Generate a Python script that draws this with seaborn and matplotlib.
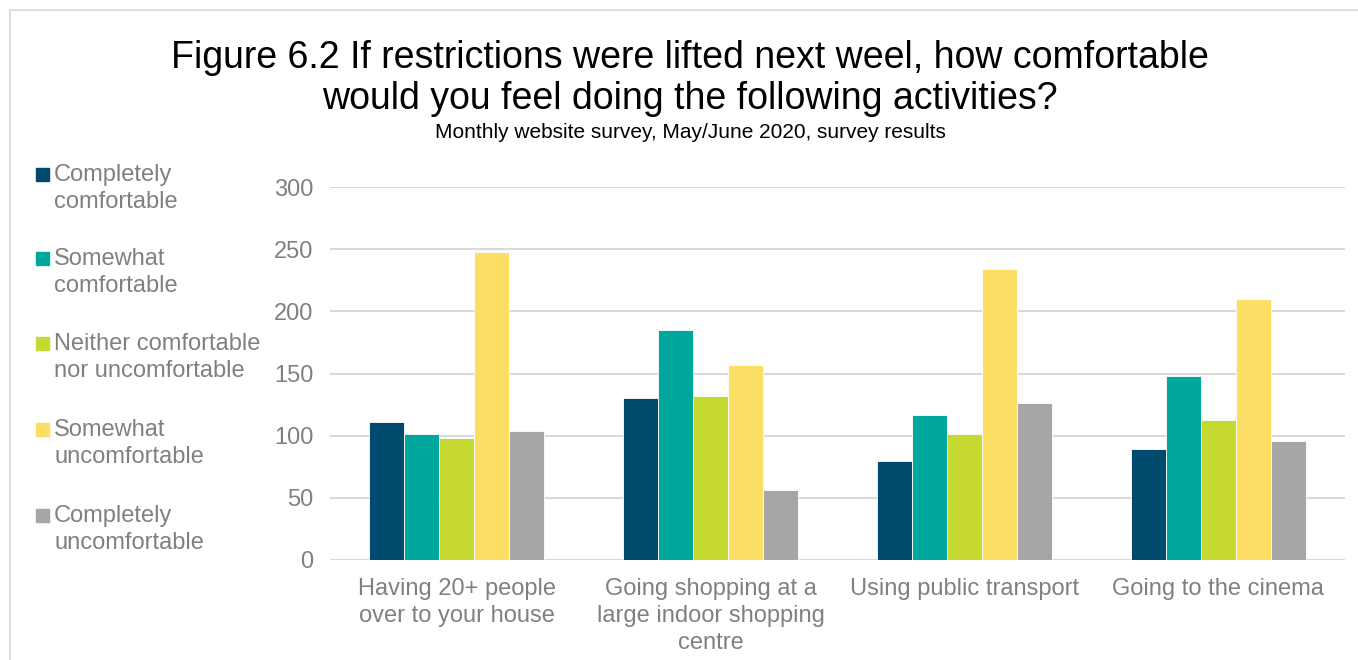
import pandas as pd
import matplotlib.pyplot as plt
import seaborn as sns
from matplotlib.lines import Line2D
from matplotlib.patches import Rectangle

activities = ['Having 20+ people\nover to your house',
              'Going shopping at a\nlarge indoor shopping\ncentre',
              'Using public transport',
              'Going to the cinema']
responses = ['Completely\ncomfortable', 'Somewhat\ncomfortable',
             'Neither comfortable\nnor uncomfortable', 'Somewhat\nuncomfortable',
             'Completely\nuncomfortable']
completely_comf = [111, 130, 80, 89]
somewhat_comf = [101, 185, 117, 148]
neither = [98, 132, 101, 113]
somewhat_uncomf = [248, 157, 234, 210]
completely_uncomf = [104, 56, 126, 96]
colors = ['#004A6E', '#00A79D', '#C5D930', '#FDDE64', '#A6A6A6']

series = [completely_comf, somewhat_comf, neither, somewhat_uncomf, completely_uncomf]
rows = []
for resp, vals in zip(responses, series):
    for act, v in zip(activities, vals):
        rows.append({'activity': act, 'response': resp, 'count': v})
df = pd.DataFrame(rows)

sns.set_style('white')
plt.rcParams['font.family'] = ['Liberation Sans', 'DejaVu Sans']

W, H = 1358, 660
fig = plt.figure(figsize=(W / 100, H / 100), dpi=100)
ax = fig.add_axes([330 / W, 1 - 560 / H, (1345 - 330) / W, (560 - 187) / H])

sns.barplot(data=df, x='activity', y='count', hue='response', palette=colors,
            saturation=1, width=0.69, gap=0, edgecolor='white', linewidth=0.6,
            ax=ax, legend=False)

ax.set_ylim(0, 300)
ax.set_yticks(range(0, 301, 50))
ax.yaxis.grid(True, color='#D9D9D9', linewidth=1.5)
ax.set_axisbelow(True)
for s in ax.spines.values():
    s.set_visible(False)
ax.set_xlabel('')
ax.set_ylabel('')
ax.tick_params(axis='both', length=0, labelsize=17, labelcolor='#808080')
ax.tick_params(axis='y', pad=12)
ax.tick_params(axis='x', pad=13)
for t in ax.get_xticklabels():
    t.set_linespacing(1.3)

# legend on the left, square aligned with first line of each label
leg_y = [175, 259, 344, 430, 516]
for resp, col, y in zip(responses, colors, leg_y):
    fig.add_artist(Rectangle((36 / W, 1 - (y + 6) / H), 13 / W, 13 / H,
                             transform=fig.transFigure, color=col))
    fig.text(54 / W, 1 - (y - 11) / H, resp, ha='left', va='top', fontsize=17,
             color='#808080', linespacing=1.3)

fig.text(690 / W, 1 - 58 / H, 'Figure 6.2 If restrictions were lifted next weel, how comfortable',
         ha='center', va='center', fontsize=27, color='black')
fig.text(690 / W, 1 - 99 / H, 'would you feel doing the following activities?',
         ha='center', va='center', fontsize=27, color='black')
fig.text(690 / W, 1 - 133 / H, 'Monthly website survey, May/June 2020, survey results',
         ha='center', va='center', fontsize=15, color='black')

# chart border
fig.add_artist(Line2D([10 / W, 1], [1 - 10 / H, 1 - 10 / H], color='#D9D9D9', linewidth=1.2))
fig.add_artist(Line2D([10 / W, 10 / W], [0, 1 - 10 / H], color='#D9D9D9', linewidth=1.2))

fig.savefig('out.png', dpi=100)
